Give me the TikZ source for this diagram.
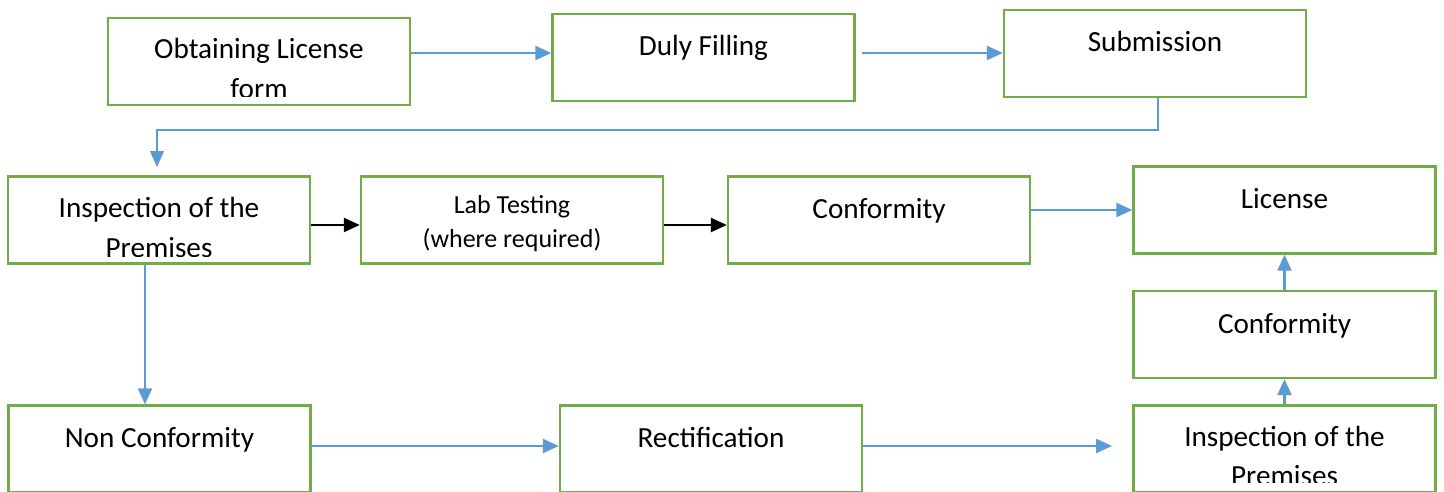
\documentclass[tikz,border=0pt]{standalone}
\usepackage{fontspec}
\setmainfont{Carlito}
\usetikzlibrary{arrows.meta}
\definecolor{boxgreen}{HTML}{70AD47}
\definecolor{arrblue}{HTML}{5B9BD5}
\tikzset{
  box/.style={draw=boxgreen, line width=1.2pt, fill=white, inner sep=0pt,
    minimum width=151pt, minimum height=43.5pt},
  txt/.style={inner sep=0pt, anchor=base, font=\fontsize{14.6pt}{18pt}\selectfont},
  smalltxt/.style={inner sep=0pt, anchor=base, font=\fontsize{13pt}{16pt}\selectfont},
  barrow/.style={draw=arrblue, line width=1.2pt, -{Triangle[length=8pt,width=7pt]}},
  thinarrow/.style={draw=arrblue, line width=0.6pt, -{Triangle[length=8pt,width=7pt]}},
  karrow/.style={draw=black, line width=1.2pt, -{Triangle[length=8pt,width=7pt]}}
}
\begin{document}
\begin{tikzpicture}[x=0.5pt,y=-0.5pt]
\useasboundingbox (0,0) rectangle (1444,492);
\clip (0,0) rectangle (1444,492);
% row 1
\node[box] (b1) at (259,61.5) {};
\node[box] (b2) at (703.5,57.5) {};
\node[box] (b3) at (1155,53.5) {};
% row 2
\node[box] (b4) at (159,220) {};
\node[box] (b5) at (512,220) {};
\node[box] (b6) at (879,220) {};
\node[box] (b7) at (1284.5,210) {};
% column right
\node[box] (b8) at (1284.5,334.5) {};
% row 3
\node[box] (b9) at (159.5,449) {};
\node[box] (b10) at (711,449) {};
\node[box] (b11) at (1284.5,449) {};
% texts
\begin{scope}
\clip (110,20) rectangle (408,97);
\node[txt] (t1a) at (259,59) {Obtaining License};
\node[txt] (t1b) at (259,98) {form};
\end{scope}
\node[txt] (t2) at (703.5,56) {Duly Filling};
\node[txt] (t3) at (1155,52) {Submission};
\begin{scope}
\clip (10,178) rectangle (308,256);
\node[txt] (t4a) at (159,217) {Inspection of the};
\node[txt] (t4b) at (159,257) {Premises};
\end{scope}
\node[smalltxt] (t5a) at (512,213) {Lab Testing};
\node[smalltxt] (t5b) at (512,247) {(where required)};
\node[txt] (t6) at (879,218) {Conformity};
\node[txt] (t7) at (1284.5,208) {License};
\node[txt] (t8) at (1284.5,333) {Conformity};
\node[txt] (t9) at (159.5,447) {Non Conformity};
\node[txt] (t10) at (711,447) {Rectification};
\begin{scope}
\clip (1135,408) rectangle (1434,482);
\node[txt] (t11a) at (1284.5,446) {Inspection of the};
\node[txt] (t11b) at (1284.5,485) {Premises};
\end{scope}
% connectors
\coordinate (c1) at (862,53);
\coordinate (c2) at (157,167);
\coordinate (c3) at (1112,446);
\draw[barrow] (b1.east |- 0,53) -- (b2.west |- 0,53);
\draw[barrow] (c1) -- (b3.west |- c1);
\draw[thinarrow] (b3.south -| 1158,0) -- (1158,130) -- (157,130) -- (c2);
\draw[karrow] (b4.east |- 0,225) -- (b5.west |- 0,225);
\draw[karrow] (b5.east |- 0,225) -- (b6.west |- 0,225);
\draw[barrow] (b6.east |- 0,210) -- (b7.west |- 0,210);
\draw[barrow] (b4.south -| 145,0) -- (b9.north -| 145,0);
\draw[barrow] (b9.east |- 0,446) -- (b10.west |- 0,446);
\draw[barrow] (b10.east |- 0,446) -- (c3);
\draw[barrow] (b11.north) -- (b8.south);
\draw[barrow] (b8.north) -- (b7.south);
\end{tikzpicture}
\end{document}
